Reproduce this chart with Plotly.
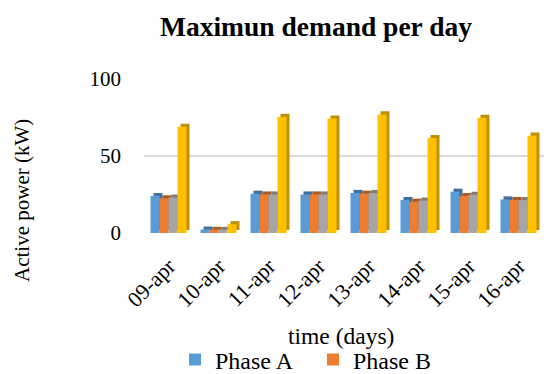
import plotly.graph_objects as go

# Daily maximum demand, kW
days = ["09-apr", "10-apr", "11-apr", "12-apr", "13-apr", "14-apr", "15-apr", "16-apr"]
phase_a = [24.0, 2.2, 25.5, 25.0, 26.0, 21.4, 26.8, 21.8]
phase_b = [22.5, 2.0, 25.0, 25.0, 25.5, 20.3, 24.0, 21.4]
phase_c = [23.0, 2.0, 25.0, 25.0, 26.0, 21.0, 24.8, 21.4]
total = [69.0, 5.7, 75.4, 74.3, 77.0, 61.7, 74.8, 63.2]

series = [
    ("Phase A", phase_a, "#5B9BD5", "#41719C", True),
    ("Phase B", phase_b, "#ED7D31", "#AE5A21", True),
    ("Phase C", phase_c, "#A5A5A5", "#7C7C7C", False),
    ("Total", total, "#FFC000", "#BF9000", False),
]

FONT = "Liberation Serif, Times New Roman, serif"
bar_w = 0.18
start = -0.37
depth_x = 0.06   # side-face depth along x (category units)
depth_y = 2.0    # top-face depth along y (kW units)

fig = go.Figure()

# back faces (give the bars a shallow 3-D look)
for i, (name, vals, col, dark, show) in enumerate(series):
    fig.add_trace(go.Bar(
        x=days, y=vals, base=depth_y, width=bar_w,
        offset=start + i * bar_w + depth_x,
        marker=dict(color=dark, line=dict(width=0)),
        showlegend=False, hoverinfo="skip",
    ))

# front faces
for i, (name, vals, col, dark, show) in enumerate(series):
    fig.add_trace(go.Bar(
        x=days, y=vals, name=name, width=bar_w,
        offset=start + i * bar_w,
        marker=dict(color=col, line=dict(width=0)),
        showlegend=show,
    ))

# plot-area geometry in pixels
W, H = 548, 374
ML, MR, MT, MB = 144, 4, 79, 141
PW, PH = W - ML - MR, H - MT - MB


def px_to_paper(px, py):
    return (px - ML) / PW, 1 - (py - MT) / PH


xt_x, xt_y = px_to_paper(341, 336)
yt_x, yt_y = px_to_paper(22, 201)

fig.update_layout(
    width=W, height=H,
    barmode="overlay",
    plot_bgcolor="white", paper_bgcolor="white",
    margin=dict(l=ML, r=MR, t=MT, b=MB, autoexpand=False),
    font=dict(family=FONT, color="black", size=23),
    title=dict(text="<b>Maximun demand per day</b>", x=316 / W, xanchor="center",
               y=1 - 26 / H, yanchor="middle", font=dict(size=27.5, family=FONT, color="black")),
    xaxis=dict(
        tickangle=-45, showgrid=False, showline=False, zeroline=False,
        tickfont=dict(size=22, family=FONT), ticks="",
        ticklabelstandoff=15, automargin=False,
    ),
    yaxis=dict(
        range=[0, 100], tickvals=[0, 50, 100], showgrid=True, gridcolor="#D9D9D9",
        gridwidth=2, zeroline=False, showline=False,
        tickfont=dict(size=21, family=FONT), ticklabelstandoff=22, automargin=False,
    ),
    legend=dict(orientation="h", x=175 / W, xanchor="left", y=1 - 360 / H, yanchor="middle",
                xref="container", yref="container",
                font=dict(size=24, family=FONT), itemwidth=30,
                entrywidth=93, entrywidthmode="pixels",
                bgcolor="rgba(0,0,0,0)"),
    annotations=[
        dict(text="time (days)", xref="paper", yref="paper", x=xt_x, y=xt_y,
             xanchor="center", yanchor="middle", showarrow=False,
             font=dict(size=23.5, family=FONT)),
        dict(text="Active power (kW)", textangle=-90, xref="paper", yref="paper",
             x=yt_x, y=yt_y, xanchor="center", yanchor="middle", showarrow=False,
             font=dict(size=21, family=FONT)),
    ],
)

fig.write_html("out.html")
